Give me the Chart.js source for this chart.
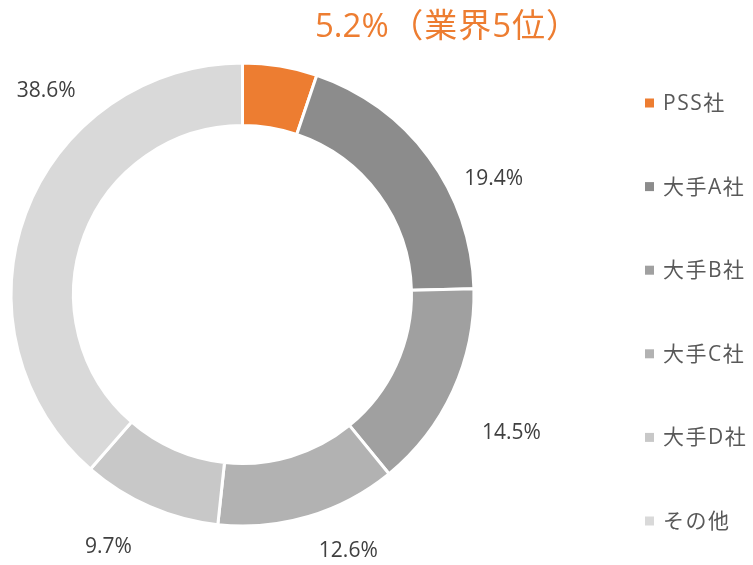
<!DOCTYPE html>
<html>
<head>
<meta charset="utf-8">
<script src="https://cdn.jsdelivr.net/npm/chart.js@4/dist/chart.umd.min.js"></script>
<style>
html,body{margin:0;padding:0;background:#fff;}
#wrap{position:relative;width:753px;height:565px;}
</style>
</head>
<body>
<div id="wrap"><canvas id="c" width="753" height="565"></canvas></div>
<script>
const categories = ['PSS社', '大手A社', '大手B社', '大手C社', '大手D社', 'その他'];
const shares = [5.2, 19.4, 14.5, 12.6, 9.7, 38.6];
const titleSuffix = '（業界5位）';
const colors = ['#ED7D31', '#8C8C8C', '#A0A0A0', '#B2B2B2', '#C8C8C8', '#D9D9D9'];
// label placement styling: fraction along the arc and radial gap outside
const labelFrac = [null, 0.667, 0.55, 0.371, 0.627, 0.683];
const labelGap = [null, 45, 71, 46, 54, 51];

const FONT = "'Open Sans', 'Noto Sans CJK JP', sans-serif";

const labelPlugin = {
  id: 'outLabels',
  afterDatasetsDraw(chart) {
    const ctx = chart.ctx;
    const meta = chart.getDatasetMeta(0);
    const vals = chart.data.datasets[0].data;
    ctx.save();
    ctx.textAlign = 'center';
    ctx.textBaseline = 'middle';
    meta.data.forEach((arc, i) => {
      if (labelFrac[i] == null) return;
      const p = arc.getProps(['x', 'y', 'startAngle', 'endAngle', 'outerRadius'], true);
      const a = p.startAngle + labelFrac[i] * (p.endAngle - p.startAngle);
      const r = p.outerRadius + labelGap[i];
      ctx.fillStyle = '#404040';
      ctx.font = '21px ' + FONT;
      ctx.fillText(vals[i].toFixed(1) + '%', p.x + r * Math.cos(a), p.y + r * Math.sin(a));
    });
    // title-like label for PSS
    ctx.fillStyle = '#ED7D31';
    ctx.font = '33px ' + FONT;
    ctx.textAlign = 'left';
    ctx.fillText(vals[0].toFixed(1) + '%', 315, 28);
    ctx.textAlign = 'right';
    ctx.letterSpacing = '1px';
    ctx.fillText(titleSuffix, 580, 28);
    // legend
    ctx.textAlign = 'left';
    ctx.font = '21px ' + FONT;
    ctx.letterSpacing = '1.5px';
    chart.data.labels.forEach((lab, i) => {
      const y = 103 + i * 83.6;
      ctx.fillStyle = chart.data.datasets[0].backgroundColor[i];
      ctx.fillRect(645, y - 4.5, 9, 9);
      ctx.fillStyle = '#595959';
      ctx.fillText(lab, 663, y + 1);
    });
    ctx.restore();
  }
};

new Chart(document.getElementById('c'), {
  type: 'doughnut',
  data: {
    labels: categories,
    datasets: [{
      data: shares,
      backgroundColor: colors,
      borderColor: '#FFFFFF',
      borderWidth: 3,
      hoverOffset: 0
    }]
  },
  options: {
    responsive: false,
    animation: false,
    cutout: '73%',
    layout: { padding: { left: 9.5, top: 61.5, right: 277.5, bottom: 37.5 } },
    plugins: {
      legend: { display: false },
      tooltip: { enabled: false },
      title: { display: false }
    }
  },
  plugins: [labelPlugin]
});
</script>
</body>
</html>
